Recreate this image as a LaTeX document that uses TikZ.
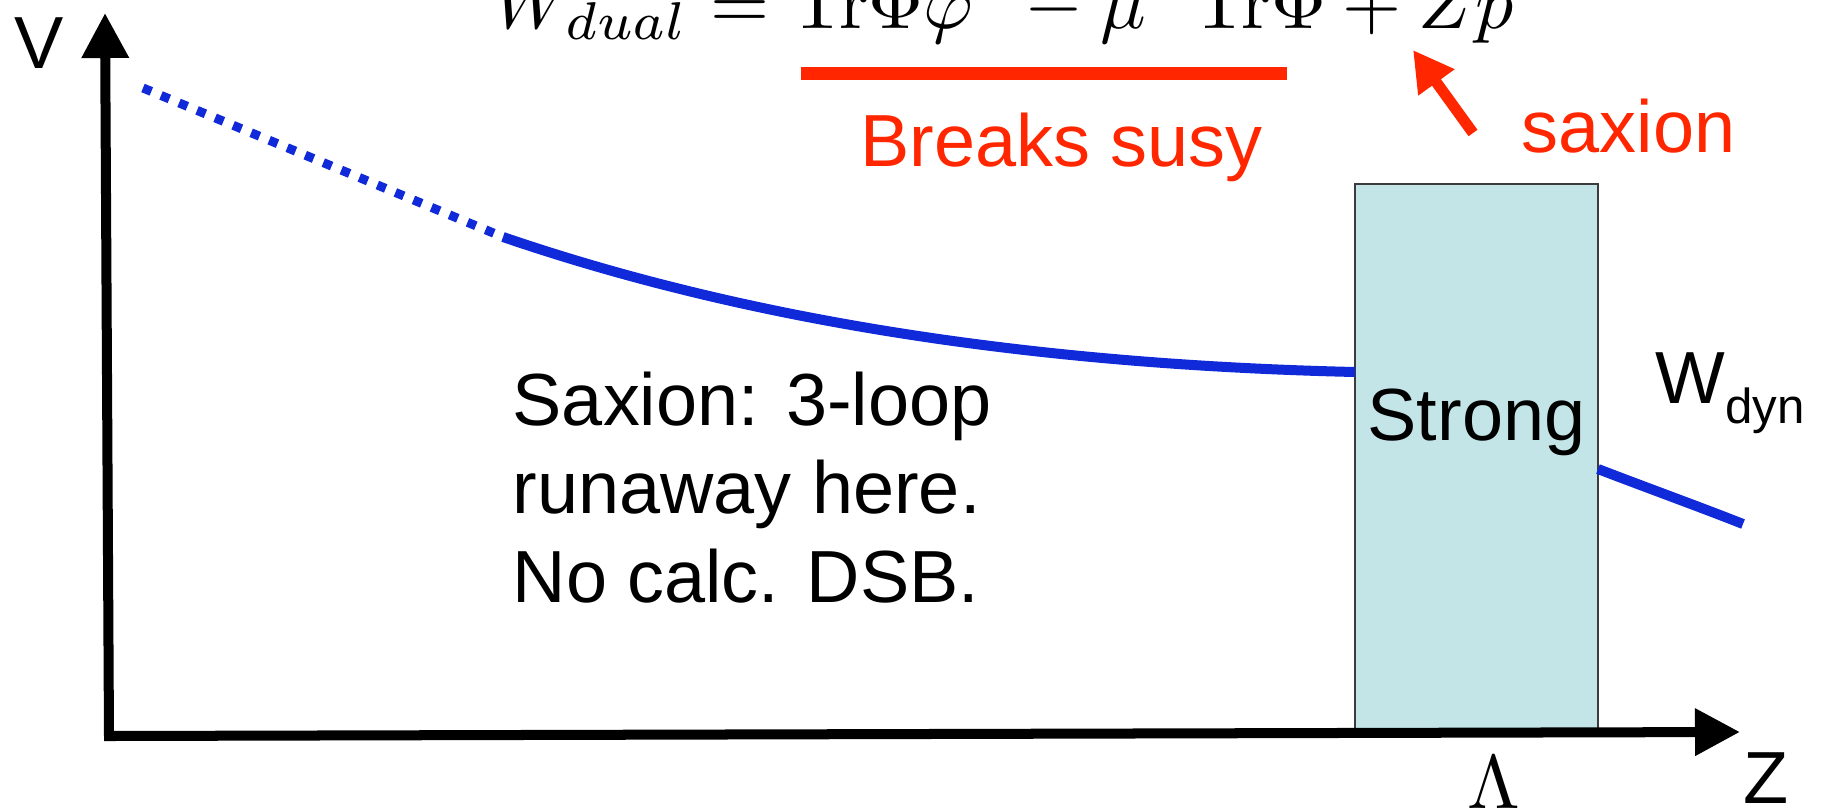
\documentclass[tikz,border=0pt]{standalone}
\usepackage[no-math]{fontspec}
\setmainfont{Liberation Sans}
\usetikzlibrary{arrows.meta,calc}
\definecolor{curveblue}{RGB}{16,42,218}
\definecolor{alertred}{RGB}{255,38,0}
\definecolor{boxcyan}{RGB}{196,229,231}
\definecolor{boxedge}{RGB}{60,60,60}
\begin{document}
\begin{tikzpicture}[x=0.01cm,y=-0.01cm,
  lbl/.style={inner sep=0pt, font=\fontsize{21pt}{25pt}\selectfont},
  redlbl/.style={lbl, text=alertred},
  mathlbl/.style={inner sep=0pt},
  axisline/.style={line width=1mm, line join=miter,
    {Triangle[length=4.5mm,width=4.5mm]}-{Triangle[length=4.5mm,width=4.5mm]}},
  curvesolid/.style={curveblue, line width=1mm},
  curvedots/.style={curveblue, line width=0.9mm, dash pattern=on 0.9mm off 1.05mm},
  regionbox/.style={draw=boxedge, fill=boxcyan, line width=0.15mm, inner sep=0pt,
    minimum width=2.43cm, minimum height=5.48cm},
  redarrow/.style={alertred, line width=1.1mm, -{Triangle[length=4mm,width=4.2mm]}},
  redbar/.style={alertred, line width=1.3mm},
]
\path[use as bounding box, clip] (0,0) rectangle (1828,809);

% strong-coupling region
\node[regionbox] (box) at (1476.5,458) {};
\node[lbl, anchor=base] (strongtxt) at (1476.5,440) {Strong};

% axes
\coordinate (origin) at (109,736);
\coordinate (ytip) at (105,13);
\coordinate (xtip) at (1740,732);
\draw[axisline] (ytip) -- (origin) -- (xtip);
\node[lbl, anchor=base] (vlbl) at (39,68) {V};
\node[lbl, anchor=base] (zlbl) at (1766,803) {Z};
\node[mathlbl, anchor=base] (lam) at (1494,808) {\scalebox{2.16}{$\Lambda$}};

% potential curve
\coordinate (d0) at (143,88);
\coordinate (d1) at (503,237);
\coordinate (cL) at (1355,372);
\coordinate (cR0) at (1598,469);
\coordinate (cR1) at (1743,524);
\draw[curvedots] (d0) -- (d1);
\draw[curvesolid] (d1) .. controls (760,325) and (1050,365) .. (cL);
\draw[curvesolid] (cR0) .. controls (1650,489) and (1700,507) .. (cR1);
\node[lbl, anchor=base west] (wdyn) at (1655,403) {W\raisebox{-5.7pt}{\fontsize{14pt}{14pt}\selectfont dyn}};

% comment text
\node[lbl, anchor=base west] (t1) at (512,425) {Saxion: 3-loop};
\node[lbl, anchor=base west] (t2) at (512,513) {runaway here.};
\node[lbl, anchor=base west] (t3) at (512,602) {No calc. DSB.};

% formula
\node[mathlbl, anchor=base west] (formula) at (493,28)
  {\scalebox{2.16}{$W_{dual} = \mathrm{Tr}\Phi\varphi^2 - \mu^2\,\mathrm{Tr}\Phi + Zp$}};

% red annotations
\coordinate (bar0) at (801,73.5);
\coordinate (bar1) at (1287,73.5);
\draw[redbar] (bar0) -- (bar1);
\node[redlbl, anchor=base] (breaks) at (1061.5,166) {Breaks susy};
\coordinate (rs) at (1473,133);
\coordinate (rt) at (1413,50);
\draw[redarrow] (rs) -- (rt);
\node[redlbl, anchor=base west] (saxlbl) at (1521,152) {saxion};
\end{tikzpicture}
\end{document}
